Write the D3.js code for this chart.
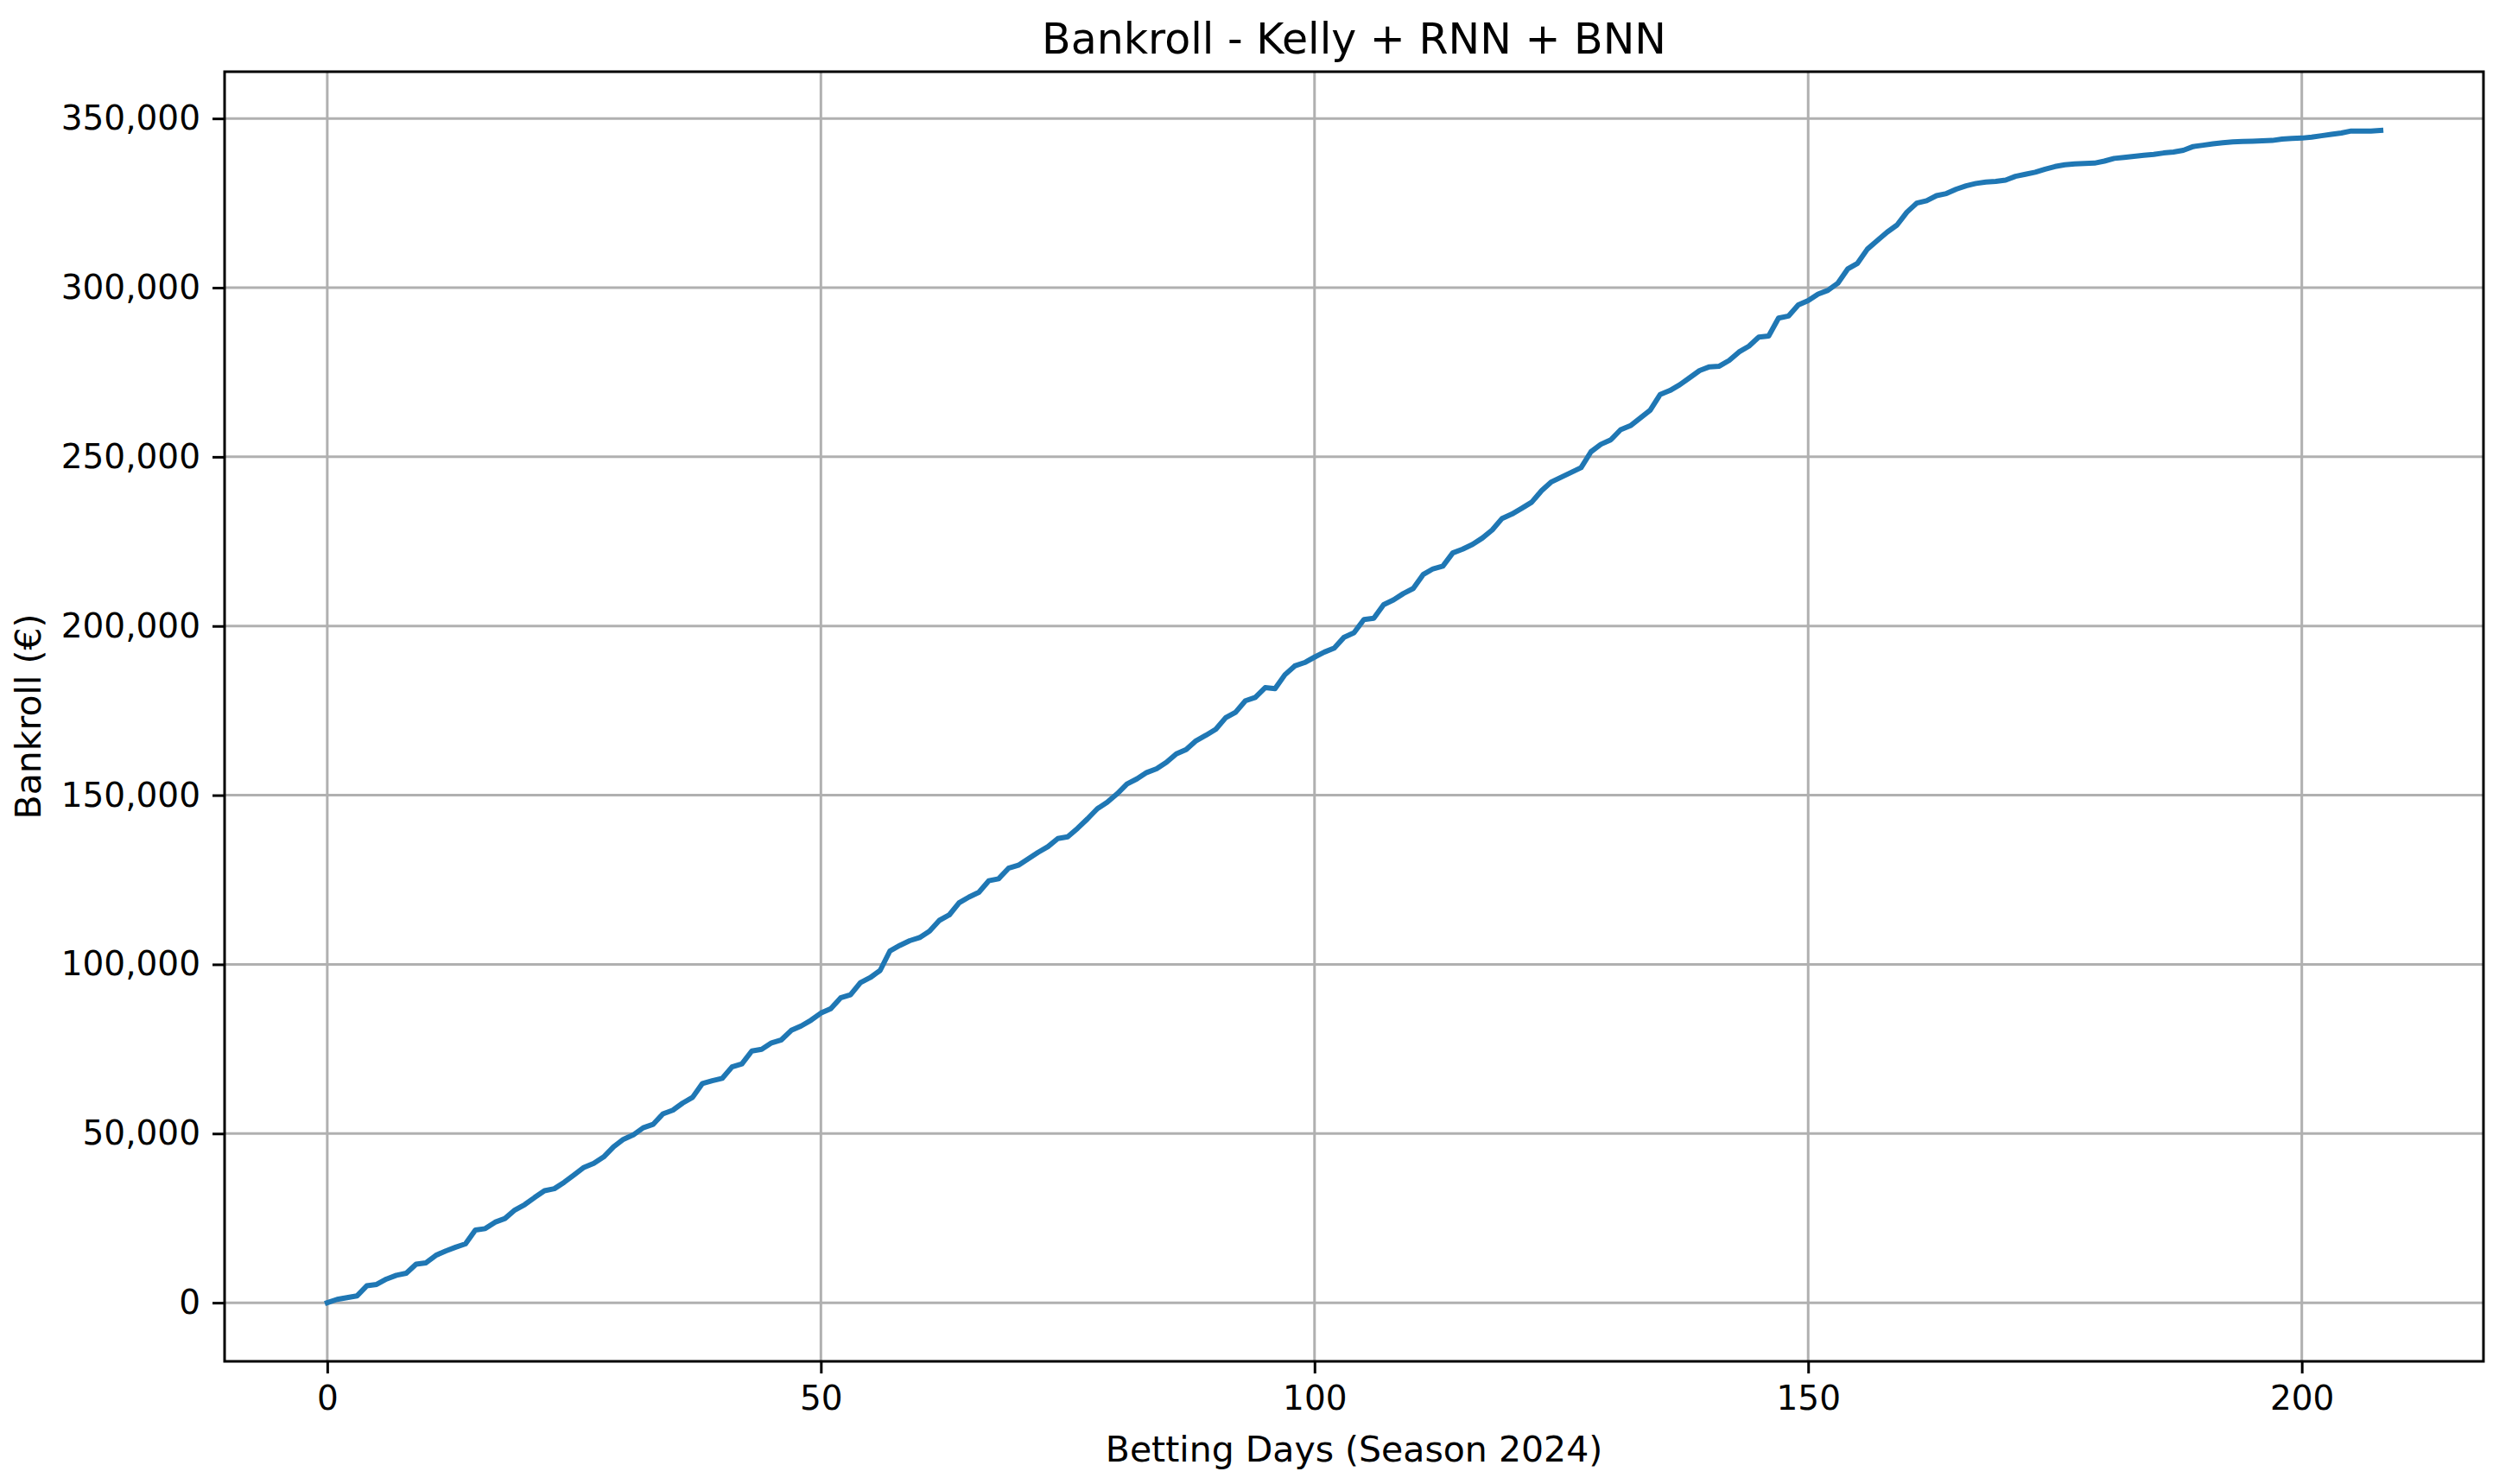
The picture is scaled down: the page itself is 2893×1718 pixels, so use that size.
<!DOCTYPE html>
<html>
<head>
<meta charset="utf-8">
<script src="https://cdn.jsdelivr.net/npm/d3@7"></script>
<style>
    body { margin: 0; background: #ffffff; }
    text { font-family: "DejaVu Sans", sans-serif; fill: #000000; }
</style>
</head>
<body>
<div id="chart"></div>
<script>
// bankroll at the end of each betting day (day = index)
var bankroll = [
    0, 1000, 1500, 2000, 5000, 5400, 7000, 8100, 8700, 11400,
    11800, 14000, 15300, 16400, 17400, 21500, 21900, 23800, 24900, 27400,
    29000, 31100, 33100, 33700, 35600, 37800, 40000, 41200, 43100, 46100,
    48300, 49600, 51700, 52700, 55800, 56900, 59000, 60700, 64800, 65600,
    66300, 69700, 70600, 74400, 74900, 76800, 77700, 80500, 81800, 83500,
    85600, 86900, 90100, 91000, 94600, 96100, 98200, 104000, 105600, 107000,
    107900, 109800, 113000, 114600, 118200, 119900, 121300, 124700, 125300, 128400,
    129300, 131200, 133100, 134800, 137200, 137700, 140200, 143000, 146000, 147900,
    150400, 153300, 154800, 156700, 157800, 159700, 162200, 163500, 166100, 167700,
    169500, 172900, 174500, 177900, 178900, 181800, 181500, 185600, 188200, 189200,
    190800, 192300, 193500, 196700, 198000, 201900, 202300, 206300, 207700, 209600,
    211100, 215200, 216900, 217700, 221600, 222700, 224100, 226000, 228400, 231800,
    233100, 234800, 236600, 240000, 242600, 244000, 245400, 246800, 251500, 253700,
    255000, 258000, 259200, 261500, 263800, 268400, 269600, 271300, 273400, 275500,
    276600, 276800, 278500, 281000, 282700, 285400, 285700, 291000, 291600, 294900,
    296200, 298100, 299200, 301300, 305500, 307200, 311400, 313900, 316400, 318500,
    322300, 325000, 325700, 327200, 327800, 329100, 330100, 330800, 331200, 331400,
    331800, 332900, 333500, 334100, 335000, 335800, 336300, 336600, 336700, 336800,
    337400, 338200, 338500, 338800, 339100, 339400, 339800, 340100, 340600, 341700,
    342100, 342500, 342800, 343100, 343200, 343300, 343400, 343500, 343900, 344100,
    344200, 344500, 344900, 345300, 345700, 346300, 346300, 346300, 346500
];

var xTicks = [0, 50, 100, 150, 200];
var yTicks = [0, 50000, 100000, 150000, 200000, 250000, 300000, 350000];

var titleText = "Bankroll - Kelly + RNN + BNN";
var xLabel = "Betting Days (Season 2024)";
var yLabel = "Bankroll (€)";

(function () {
    var fullWidth = 2893,
        fullHeight = 1718;

    var margin = {top: 83, right: 18, bottom: 142, left: 260},
        width = fullWidth - margin.left - margin.right,
        height = fullHeight - margin.top - margin.bottom;

    var data = bankroll.map(function (v, i) {
        return {day: i, value: v};
    });

    // matplotlib style 5% padding on both axes
    var xExt = d3.extent(data, function (d) { return d.day; }),
        yExt = d3.extent(data, function (d) { return d.value; });
    var xPad = (xExt[1] - xExt[0]) * 0.05,
        yPad = (yExt[1] - yExt[0]) * 0.05;

    var x = d3.scaleLinear()
        .domain([xExt[0] - xPad, xExt[1] + xPad])
        .range([0, width]);

    var y = d3.scaleLinear()
        .domain([yExt[0] - yPad, yExt[1] + yPad])
        .range([height, 0]);

    var svg = d3.select("#chart").append("svg")
        .attr("width", fullWidth)
        .attr("height", fullHeight)
        .style("display", "block");

    svg.append("rect")
        .attr("width", fullWidth)
        .attr("height", fullHeight)
        .attr("fill", "#ffffff");

    var g = svg.append("g")
        .attr("transform", "translate(" + margin.left + "," + margin.top + ")");

    // grid
    g.append("g").selectAll("line.vgrid")
        .data(xTicks)
        .enter().append("line")
        .attr("x1", function (d) { return x(d); })
        .attr("x2", function (d) { return x(d); })
        .attr("y1", 0)
        .attr("y2", height)
        .attr("stroke", "#b0b0b0")
        .attr("stroke-width", 3);

    g.append("g").selectAll("line.hgrid")
        .data(yTicks)
        .enter().append("line")
        .attr("x1", 0)
        .attr("x2", width)
        .attr("y1", function (d) { return y(d); })
        .attr("y2", function (d) { return y(d); })
        .attr("stroke", "#b0b0b0")
        .attr("stroke-width", 3);

    // the bankroll line
    var line = d3.line()
        .x(function (d) { return x(d.day); })
        .y(function (d) { return y(d.value); });

    g.append("path")
        .datum(data)
        .attr("d", line)
        .attr("fill", "none")
        .attr("stroke", "#1f77b4")
        .attr("stroke-width", 6)
        .attr("stroke-linejoin", "round")
        .attr("stroke-linecap", "square");

    // axes
    var xAxis = d3.axisBottom(x)
        .tickValues(xTicks)
        .tickSize(14)
        .tickPadding(14)
        .tickFormat(d3.format("d"));

    var yAxis = d3.axisLeft(y)
        .tickValues(yTicks)
        .tickSize(14)
        .tickPadding(14)
        .tickFormat(d3.format(","));

    var gx = g.append("g")
        .attr("transform", "translate(0," + height + ")")
        .call(xAxis);

    var gy = g.append("g")
        .call(yAxis);

    [gx, gy].forEach(function (ax) {
        ax.select(".domain").remove();
        ax.selectAll(".tick line")
            .attr("stroke", "#000000")
            .attr("stroke-width", 3);
        ax.selectAll(".tick text")
            .style("font-family", "DejaVu Sans")
            .style("font-size", "39px")
            .attr("fill", "#000000");
    });

    // frame
    g.append("rect")
        .attr("x", 0)
        .attr("y", 0)
        .attr("width", width)
        .attr("height", height)
        .attr("fill", "none")
        .attr("stroke", "#000000")
        .attr("stroke-width", 3);

    // title and labels
    svg.append("text")
        .attr("x", margin.left + width / 2)
        .attr("y", 62)
        .attr("text-anchor", "middle")
        .style("font-size", "49px")
        .text(titleText);

    svg.append("text")
        .attr("x", margin.left + width / 2)
        .attr("y", 1692)
        .attr("text-anchor", "middle")
        .style("font-size", "41px")
        .text(xLabel);

    svg.append("text")
        .attr("transform", "translate(47," + (margin.top + height / 2) + ") rotate(-90)")
        .attr("text-anchor", "middle")
        .style("font-size", "41px")
        .text(yLabel);
})();
</script>
</body>
</html>
